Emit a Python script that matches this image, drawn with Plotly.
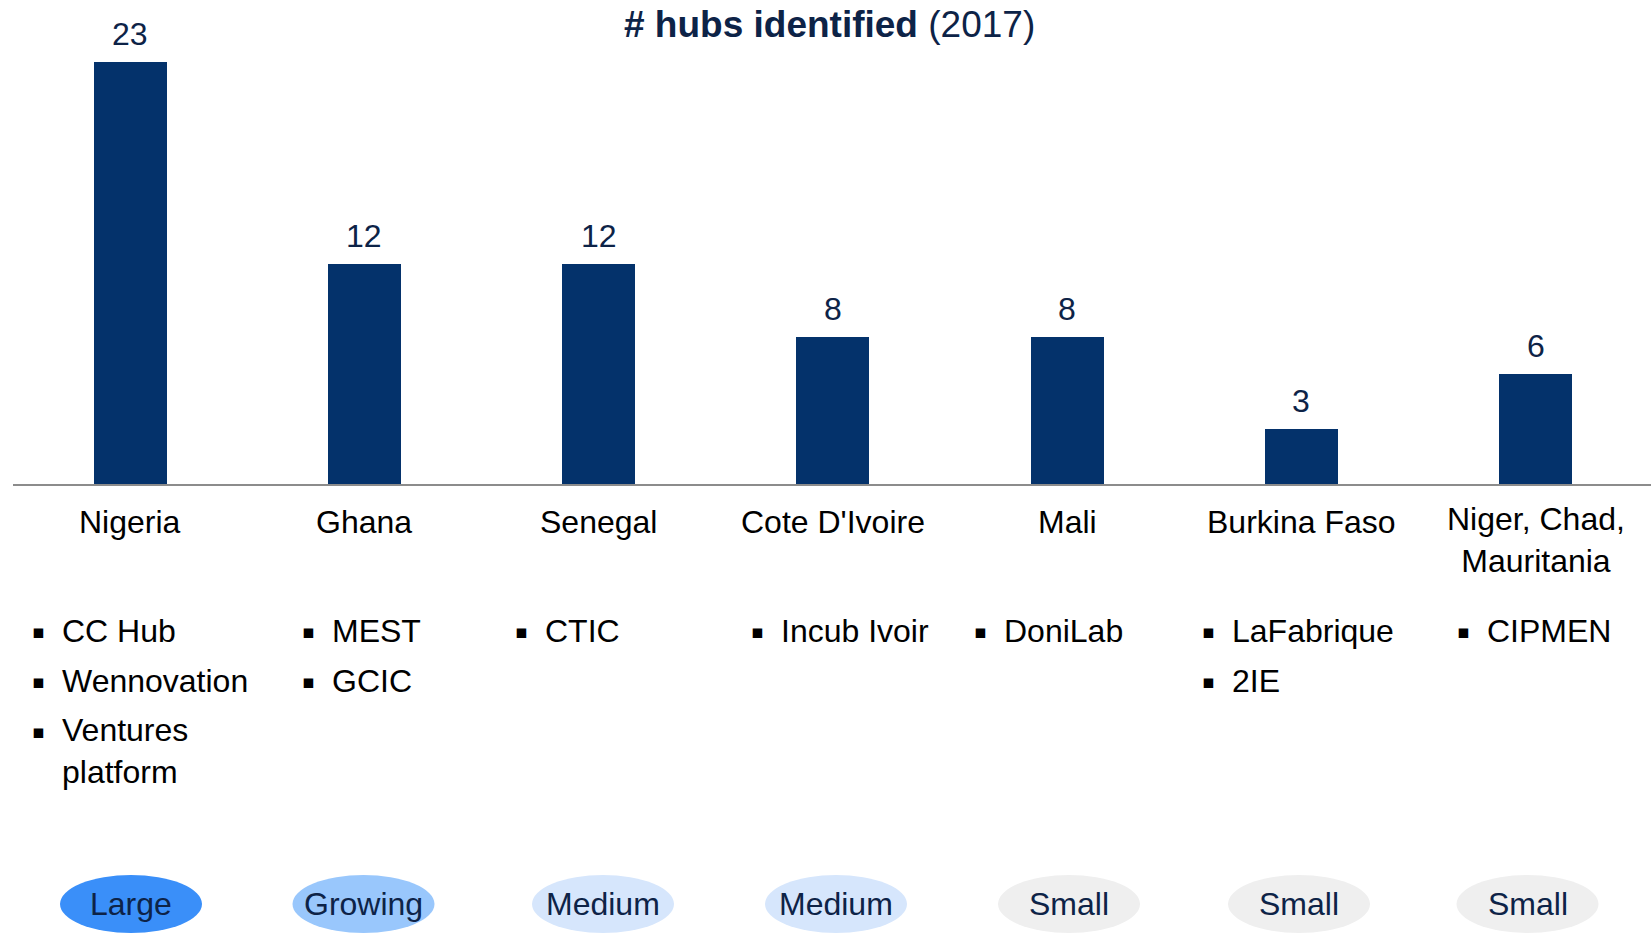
import plotly.graph_objects as go

# ---- data -------------------------------------------------------------
countries = ["Nigeria", "Ghana", "Senegal", "Cote D'Ivoire", "Mali",
             "Burkina Faso", "Niger, Chad,<br>Mauritania"]
hub_counts = [23, 12, 12, 8, 8, 3, 6]
hub_names = [
    ["CC Hub", "Wennovation", "Ventures<br>platform"],
    ["MEST", "GCIC"],
    ["CTIC"],
    ["Incub Ivoir"],
    ["DoniLab"],
    ["LaFabrique", "2IE"],
    ["CIPMEN"],
]
maturity = ["Large", "Growing", "Medium", "Medium", "Small", "Small", "Small"]

# ---- styling ----------------------------------------------------------
W, H = 1651, 945
LEFT = 13
BASE_PX = 484            # pixel row of the zero line
PX_PER_UNIT = 18.35
SLOT_PX = 234.25         # width of one category slot

NAVY = "#04326b"
TEXT_NAVY = "#0d2347"
FONT = "Liberation Sans, Arial, sans-serif"
TEXT_SIZE = 32
maturity_colors = {"Large": "#3a8ff9", "Growing": "#99c7fc",
                   "Medium": "#d6e6fc", "Small": "#efefef"}
hub_text_px = [60, 330, 543, 779, 1002, 1230, 1485]
badge_center_px = [131, 363.5, 603, 836, 1069, 1299, 1527.5]
BADGE_W = 142


def py(ypx):
    return (H - ypx) / H


def px(xpx):
    return (xpx - LEFT) / (W - LEFT)


xs = list(range(len(countries)))

fig = go.Figure()
fig.add_trace(go.Bar(
    x=xs, y=hub_counts, width=73 / SLOT_PX,
    marker=dict(color=NAVY, line=dict(width=0)),
    hoverinfo="skip",
))

annotations = []

# value labels above bars
for x, v in zip(xs, hub_counts):
    annotations.append(dict(
        x=x, y=v, xref="x", yref="y", text=str(v), showarrow=False,
        yanchor="middle", yshift=28,
        font=dict(family=FONT, size=TEXT_SIZE, color=TEXT_NAVY),
    ))

# category names under the axis
for x, name in zip(xs, countries):
    n = name.count("<br>") + 1
    annotations.append(dict(
        x=x, y=py(522 + (n - 1) * 17.5), xref="x", yref="paper",
        text=name, showarrow=False, yanchor="middle", align="center",
        font=dict(family=FONT, size=TEXT_SIZE, color="#000000"),
    ))

# bullet lists of hubs
for names, tx in zip(hub_names, hub_text_px):
    y_line = 631
    for hub in names:
        n = hub.count("<br>") + 1
        annotations.append(dict(
            x=px(tx - 22), y=py(y_line), xref="paper", yref="paper",
            text="▪", showarrow=False, xanchor="center", yanchor="middle",
            font=dict(family="DejaVu Sans", size=19, color="#000000"),
        ))
        annotations.append(dict(
            x=px(tx), y=py(y_line + (n - 1) * 20), xref="paper", yref="paper",
            text=hub, showarrow=False, xanchor="left", yanchor="middle",
            align="left",
            font=dict(family=FONT, size=TEXT_SIZE, color="#000000"),
        ))
        y_line += 50 + (n - 1) * 40

# maturity badges
shapes = []
for cx, m in zip(badge_center_px, maturity):
    shapes.append(dict(
        type="circle", xref="paper", yref="paper",
        x0=px(cx - BADGE_W / 2), x1=px(cx + BADGE_W / 2),
        y0=py(933), y1=py(875),
        fillcolor=maturity_colors[m], line=dict(width=0), layer="below",
    ))
    annotations.append(dict(
        x=px(cx), y=py(904), xref="paper", yref="paper", text=m,
        showarrow=False, xanchor="center", yanchor="middle",
        font=dict(family=FONT, size=TEXT_SIZE, color=TEXT_NAVY),
    ))

# title
annotations.append(dict(
    x=px(829), y=py(24), xref="paper", yref="paper",
    text="<b># hubs identified</b> (2017)", showarrow=False,
    xanchor="center", yanchor="middle",
    font=dict(family=FONT, size=37, color=TEXT_NAVY),
))

fig.update_layout(
    width=W, height=H,
    margin=dict(l=LEFT, r=0, t=0, b=0),
    paper_bgcolor="white", plot_bgcolor="white",
    showlegend=False,
    xaxis=dict(range=[-0.5, -0.5 + (W - LEFT) / SLOT_PX],
               showgrid=False, zeroline=False, showticklabels=False,
               showline=True, linecolor="#8c8c8c", linewidth=2, ticks=""),
    yaxis=dict(domain=[py(BASE_PX), 1], range=[0, BASE_PX / PX_PER_UNIT],
               visible=False, showgrid=False, zeroline=False),
    annotations=annotations,
    shapes=shapes,
    bargap=0,
)

fig.write_html("out.html")
